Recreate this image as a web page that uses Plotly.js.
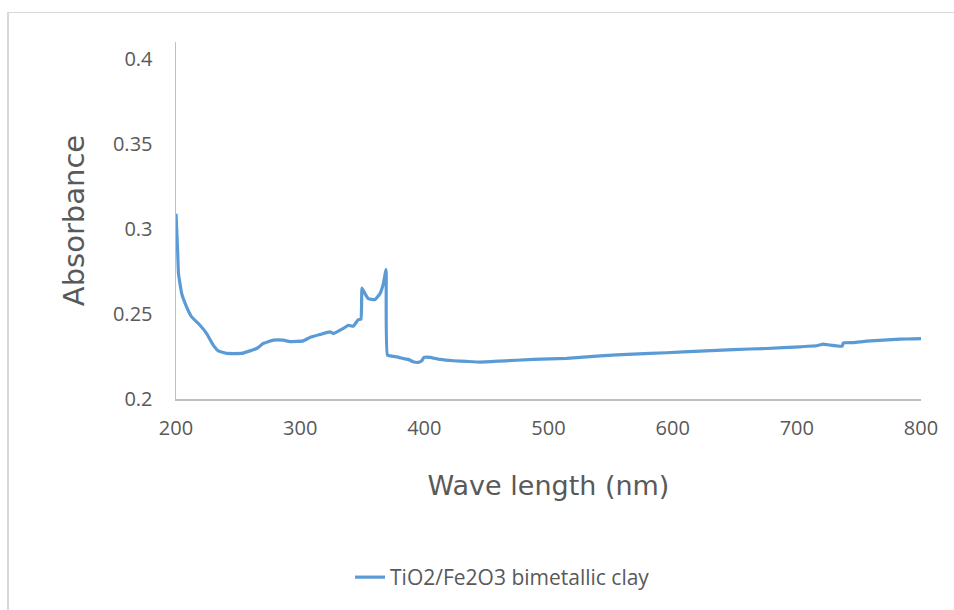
<!DOCTYPE html>
<html>
<head>
<meta charset="utf-8">
<script src="https://cdn.plot.ly/plotly-3.0.1.min.js"></script>
<style>
html,body{margin:0;padding:0;background:#fff;}
#chart{width:954px;height:610px;}
#frame{position:absolute;left:7px;top:12px;width:1000px;height:700px;border-left:2px solid #d9d9d9;border-top:1px solid #d9d9d9;pointer-events:none;}
</style>
</head>
<body>
<div id="chart"></div>
<div id="frame"></div>
<script>
const seriesName = "TiO2/Fe2O3 bimetallic clay";
const wavelength = [200, 201.3, 202, 204.6, 208.6, 212.6, 219.3, 224.7, 230, 234, 240.8, 252.9, 259.6, 265, 270.3, 278.4, 286.4, 291.8, 302.5, 307.9, 315.9, 324, 326.7, 334.7, 338.8, 342.8, 346.8, 349, 349.8, 352.2, 354.9, 360.3, 364.3, 367, 369.2, 370.3, 377.8, 384.5, 387, 391, 395, 397.9, 399.7, 404.6, 412.6, 423.4, 434.1, 444.8, 461, 487.8, 514.7, 541.5, 568.3, 595.2, 622, 648.9, 675.7, 702.5, 716, 721.3, 726.7, 736.5, 737.5, 745.5, 756.2, 769.6, 783.1, 793.8, 800];
const absorbance = [0.309, 0.2874, 0.2737, 0.262, 0.2541, 0.2483, 0.2434, 0.2385, 0.2317, 0.2283, 0.2268, 0.2268, 0.2283, 0.2297, 0.2327, 0.2346, 0.2346, 0.2338, 0.2342, 0.2362, 0.2379, 0.2395, 0.2385, 0.2415, 0.2434, 0.2428, 0.2467, 0.2469, 0.2653, 0.262, 0.259, 0.2585, 0.262, 0.2679, 0.2761, 0.2258, 0.2248, 0.2236, 0.2233, 0.2219, 0.2215, 0.2225, 0.2245, 0.2245, 0.2233, 0.2225, 0.2221, 0.2217, 0.2223, 0.2233, 0.2239, 0.2254, 0.2264, 0.2272, 0.2282, 0.2291, 0.2297, 0.2307, 0.2313, 0.2323, 0.2317, 0.2311, 0.233, 0.2332, 0.234, 0.2346, 0.2352, 0.2354, 0.2355];
const xTicks = [200, 300, 400, 500, 600, 700, 800];
const yTicks = [0.2, 0.25, 0.3, 0.35, 0.4];
const yTickText = ["0.2", "0.25", "0.3", "0.35", "0.4"];

const trace = {
  x: wavelength, y: absorbance, type: 'scatter', mode: 'lines', name: seriesName,
  line: {color: '#5b9bd5', width: 3.2, shape: 'spline', smoothing: 0.3}
};
const layout = {
  width: 954, height: 610,
  margin: {l: 176, r: 33, t: 42, b: 211},
  paper_bgcolor: '#ffffff', plot_bgcolor: '#ffffff',
  showlegend: true,
  font: {family: 'Open Sans, sans-serif', color: '#595959'},
  xaxis: {
    range: [200, 800], tickvals: xTicks, showgrid: false, zeroline: false,
    showline: true, linecolor: '#bfbfbf', linewidth: 1.5, ticks: '',
    ticklabelstandoff: 10,
    tickfont: {size: 20, color: '#595959', family: 'Open Sans, sans-serif'},
    title: {text: 'Wave length (nm)', font: {size: 27, color: '#595959', family: 'DejaVu Sans, sans-serif'}, standoff: 36}
  },
  yaxis: {
    range: [0.2, 0.41], tickvals: yTicks, ticktext: yTickText, showgrid: false, zeroline: false,
    showline: true, linecolor: '#bfbfbf', linewidth: 1.5, ticks: '',
    ticklabelstandoff: 18,
    tickfont: {size: 20, color: '#595959', family: 'Open Sans, sans-serif'},
    title: {text: 'Absorbance', font: {size: 29, color: '#595959', family: 'DejaVu Sans, sans-serif'}, standoff: 20}
  },
  legend: {
    orientation: 'h', x: 0.2336, xanchor: 'left', y: -0.5, yanchor: 'middle',
    font: {size: 21, color: '#595959', family: 'Open Sans, sans-serif'},
    bgcolor: 'rgba(0,0,0,0)'
  }
};
Plotly.newPlot('chart', [trace], layout, {displayModeBar: false, staticPlot: true});
</script>
</body>
</html>
